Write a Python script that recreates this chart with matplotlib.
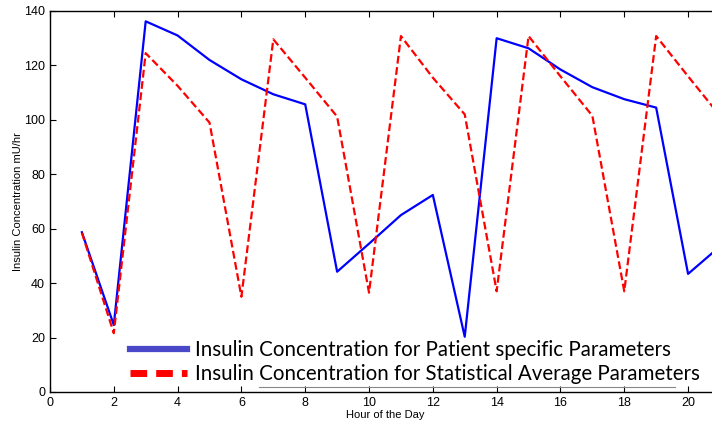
import matplotlib
matplotlib.use('Agg')
import matplotlib.pyplot as plt
from matplotlib.lines import Line2D

# hourly insulin concentration (mU/hr)
hours = list(range(1, 22))
patient_specific = [58.7, 24.6, 136.2, 131.0, 122.0, 114.9, 109.4, 105.7, 44.2, 54.5, 65.0,
                    72.4, 20.3, 130.0, 126.3, 118.5, 112.0, 107.6, 104.5, 43.4, 53.5]
statistical_avg = [58.5, 21.6, 124.5, 112.5, 99.0, 35.0, 129.6, 115.5, 101.2, 36.5, 130.8,
                   115.5, 102.0, 37.0, 130.8, 116.0, 101.5, 37.0, 130.8, 116.0, 101.5]

label_patient = 'Insulin Concentration for Patient specific Parameters'
label_avg = 'Insulin Concentration for Statistical Average Parameters'

plt.rcParams['font.family'] = ['Liberation Sans', 'DejaVu Sans']

fig = plt.figure(figsize=(7.12, 4.23), dpi=100)
# axes run past the right edge of the figure
ax = fig.add_axes([0.0702, 0.0733, 0.941, 0.9007])

ax.plot(hours, patient_specific, color='#0000ff', lw=1.6)
ax.plot(hours, statistical_avg, color='#ff0000', lw=1.6, ls=(0, (3.5, 1.6)))

ax.set_xlim(0, 21)
ax.set_ylim(0, 140)
ax.set_xticks(range(0, 21, 2))
ax.set_yticks(range(0, 141, 20))
ax.tick_params(direction='in', top=True, right=False, length=4, labelsize=9, width=0.8)
ax.spines['right'].set_visible(False)
for s in ['left', 'bottom', 'top']:
    ax.spines[s].set_linewidth(1.0)

ax.set_xlabel('Hour of the Day', fontsize=8, labelpad=1)
ax.set_ylabel('Insulin Concentration mU/hr', fontsize=8, labelpad=1)

handles = [
    Line2D([], [], color='#4848c8', lw=4.5),
    Line2D([], [], color='#ff0000', lw=5, ls=(0, (2.4, 1.3))),
]
fig.legend(handles, [label_patient, label_avg], loc='lower left',
           bbox_to_anchor=(0.157, 0.048), frameon=False, handlelength=2.75,
           handletextpad=0.4, labelspacing=0.2,
           prop={'family': 'Lato', 'size': 14.8})

# thin grey rule under the second legend entry
fig.add_artist(Line2D([259 / 712, 675 / 712], [1 - 387 / 423, 1 - 387 / 423],
                      transform=fig.transFigure, color='#888888', lw=0.8))

fig.savefig('out.png', dpi=100)
